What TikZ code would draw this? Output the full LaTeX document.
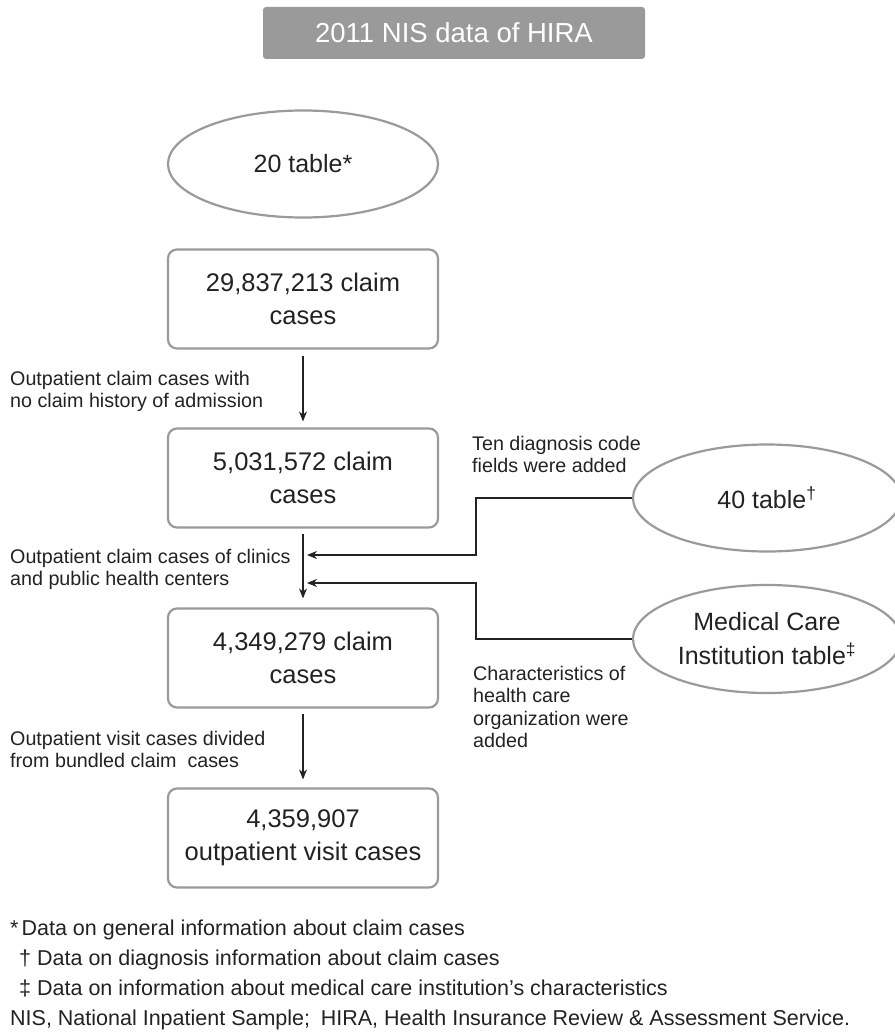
\documentclass[tikz,border=0pt]{standalone}
\usepackage{fontspec}
\setmainfont{Liberation Sans}
\usetikzlibrary{arrows.meta,shapes.geometric}
\definecolor{framegray}{HTML}{9A9A9A}
\definecolor{ink}{HTML}{222222}

\begin{document}
\begin{tikzpicture}[x=1pt, y=-1pt,
    box/.style = {draw=framegray, line width=2.2pt, rounded corners=9pt, minimum width=270pt,
      minimum height=99pt, align=center, text=ink, font=\fontsize{25.5}{33}\selectfont},
    oval/.style = {ellipse, draw=framegray, line width=2.2pt, minimum width=270pt,
      minimum height=107pt, inner sep=0pt, align=center, text=ink, font=\fontsize{25}{34}\selectfont},
    lbl/.style = {anchor=north west, inner sep=0pt, align=left, text=ink, font=\fontsize{19.7}{22.5}\selectfont},
    flow/.style = {draw=ink, line width=1.5pt, -{Stealth[length=10pt, width=8pt]}}]
    \useasboundingbox (0,0) rectangle (894,1033);
    % title bar
    \node [fill=framegray, rounded corners=3pt, minimum width=382pt, minimum height=52pt,
      text=white, font=\fontsize{27.5}{30}\selectfont] (title) at (454,33) {2011 NIS data of HIRA};
    % sources
    \node [oval] (t20) at (303,164) {20 table*};
    \node [oval, minimum width=268pt] (t40) at (767,498) {40 table\textsuperscript{†}};
    \node [oval, minimum width=268pt, minimum height=108pt] (mci) at (767,639)
      {Medical Care\\Institution table\textsuperscript{‡}};
    % claim cases
    \node [box] (c1) at (303,299) {29,837,213 claim\\cases};
    \node [box] (c2) at (303,478) {5,031,572 claim\\cases};
    \node [box] (c3) at (303,658) {4,349,279 claim\\cases};
    \node [box] (c4) at (303,838) {4,359,907\\outpatient visit cases};
    \draw [flow, shorten <=6pt, shorten >=6pt] (c1) -- (c2);
    \draw [flow, shorten <=5pt, shorten >=9pt] (c2) -- (c3);
    \draw [flow, shorten <=5pt, shorten >=8pt] (c3) -- (c4);
    % side inputs
    \coordinate (j1) at (476,555);
    \coordinate (j2) at (476,583);
    \coordinate (m1) at (307,555);
    \coordinate (m2) at (307,583);
    \draw [flow] (t40.west) -| (j1) -- (m1);
    \draw [flow] (mci.west) -| (j2) -- (m2);
    % step labels
    \node [lbl] (s1) at (10,371) {Outpatient claim cases with\\no claim history of admission};
    \node [lbl] (s2) at (10,549) {Outpatient claim cases of clinics\\and public health centers};
    \node [lbl] (s3) at (10,731) {Outpatient visit cases divided\\from bundled claim\ \ cases};
    \node [lbl] (s4) at (472,436) {Ten diagnosis code\\fields were added};
    \node [lbl] (s5) at (473,666) {Characteristics of\\health care\\organization were\\added};
    % footnotes
    \node [lbl, font=\fontsize{21.5}{30}\selectfont] (notes) at (10,920)
      {*\hspace*{3pt}Data on general information about claim cases\\
       \hspace*{9pt}†\hspace*{6pt}Data on diagnosis information about claim cases\\
       \hspace*{9pt}‡\hspace*{6pt}Data on information about medical care institution’s characteristics\\
       NIS, National Inpatient Sample;\enspace HIRA, Health Insurance Review \& Assessment Service.};
\end{tikzpicture}
\end{document}
